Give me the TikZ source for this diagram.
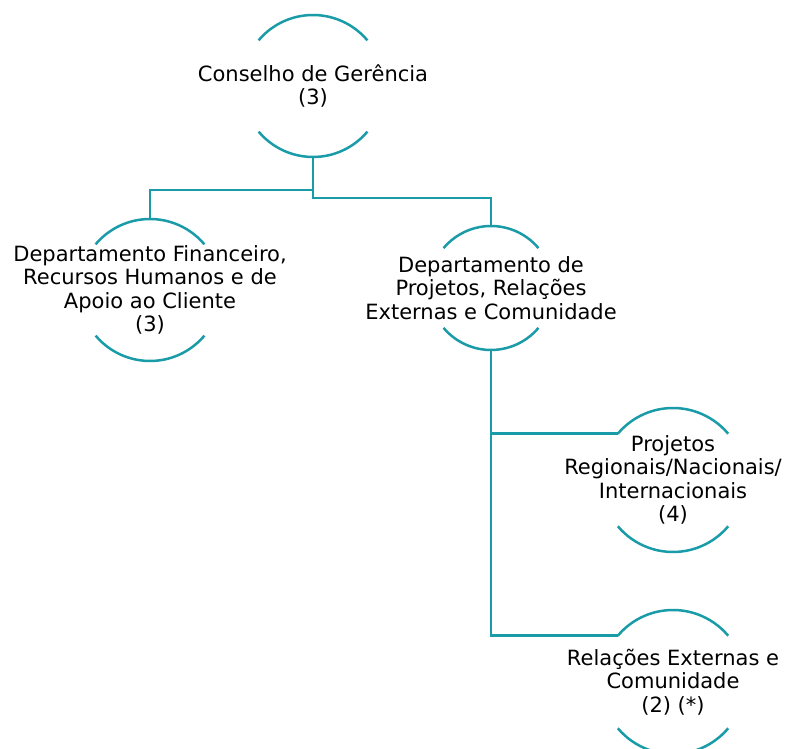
\documentclass[tikz,border=0pt]{standalone}
\usepackage{fontspec}
\setmainfont{DejaVu Sans}
\usetikzlibrary{calc}
\definecolor{orgteal}{HTML}{1A9BA8}
\tikzset{
	ring/.style={circle,minimum size=#1,inner sep=0pt,outer sep=0pt},
	tag/.style={align=center,inner sep=0pt,font=\fontsize{21}{23.5}\selectfont},
	link/.style={line width=2.5pt,color=orgteal}
}

\begin{document}
\begin{tikzpicture}[line cap=butt,line join=miter,x=1pt,y=1pt]
			\useasboundingbox (0,0) rectangle (787,749);
			%%%%%%%%%%%%%%% N O D E S %%%%%%%%%%%%%%%%
			%level 0
			\node[ring=142] (cons) at (313,663) {};
			%level 1
			\node[ring=142] (fin) at (150,459) {};
			\node[ring=124] (proj) at (491,461) {};
			%level 2
			\node[ring=144] (reg) at (673,269) {};
			\node[ring=144] (rel) at (673,67) {};
			%%%%%%%%%%%%%%% A R C S %%%%%%%%%%%%%%%%
			\draw [link] (cons.40) arc (40:140:71);
			\draw [link] (cons.220) arc (220:320:71);
			\draw [link] (fin.40) arc (40:140:71);
			\draw [link] (fin.220) arc (220:320:71);
			\draw [link] (proj.40) arc (40:140:62);
			\draw [link] (proj.220) arc (220:320:62);
			\draw [link] (reg.40) arc (40:140:72);
			\draw [link] (reg.220) arc (220:320:72);
			\draw [link] (rel.40) arc (40:140:72);
			\draw [link] (rel.220) arc (220:320:72);
			%%%%%%%%%%%%%%% L I N K S %%%%%%%%%%%%%%%%
			%links 01
			\draw [link] (cons.south) -- ++(0,-33) -| (fin.north);
			\draw [link] (cons.south) -- ++(0,-41) -| (proj.north);
			%links 12
			\draw [link] (proj.south) |- (reg.140);
			\draw [link] (proj.south) |- (rel.140);
			%%%%%%%%%%%%%%% T A G S %%%%%%%%%%%%%%%%
			\node[tag] (cons-t) at (cons) {Conselho de Gerência\\(3)};
			\node[tag] (fin-t) at (fin) {Departamento Financeiro,\\Recursos Humanos e de\\Apoio ao Cliente\\(3)};
			\node[tag] (proj-t) at (proj) {Departamento de\\Projetos, Relações\\Externas e Comunidade};
			\node[tag] (reg-t) at (reg) {Projetos\\Regionais/Nacionais/\\Internacionais\\(4)};
			\node[tag] (rel-t) at (rel) {Relações Externas e\\Comunidade\\(2) (*)};
		\end{tikzpicture}
\end{document}
